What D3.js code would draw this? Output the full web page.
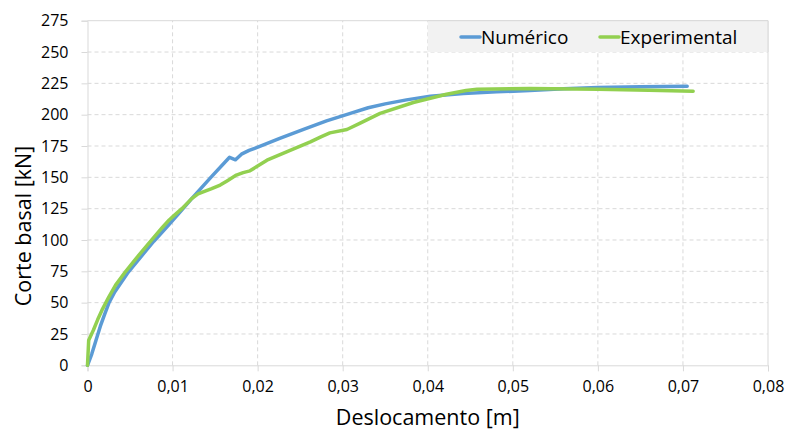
<!DOCTYPE html>
<html>
<head>
<meta charset="utf-8">
<script src="https://cdn.jsdelivr.net/npm/d3@7"></script>
<style>
  html, body { margin: 0; padding: 0; background: #fff; }
  svg { display: block; font-family: "Open Sans", "Noto Sans", sans-serif; }
</style>
</head>
<body>
<svg id="chart" width="788" height="432"></svg>
<script>
// Displacement [m] and base shear [kN] for each curve
const numericoX = [0, 0.0005, 0.0010, 0.0015, 0.0020, 0.0025, 0.0032, 0.0039, 0.0047, 0.0062, 0.0078, 0.0094, 0.0109, 0.01225, 0.0145, 0.0167, 0.0174, 0.0181, 0.0190, 0.0201, 0.0226, 0.0254, 0.0281, 0.0309, 0.0330, 0.0350, 0.0375, 0.0403, 0.0442, 0.0481, 0.0520, 0.0560, 0.0600, 0.0650, 0.0705];
const numericoY = [0, 9, 20, 31, 40.5, 49.5, 58.5, 65.5, 73.5, 86, 99, 111, 122.5, 133, 150, 166, 164, 168.5, 171.5, 174.3, 181, 188.2, 195, 201, 205.5, 208.6, 211.8, 214.8, 216.9, 218.2, 219.2, 220.6, 221.6, 222.3, 222.7];

const experimentalX = [0, 0.00014, 0.0007, 0.0012, 0.0017, 0.0025, 0.0033, 0.0045, 0.0058, 0.00755, 0.0088, 0.0096, 0.0101, 0.0111, 0.01225, 0.0130, 0.0136, 0.0146, 0.0156, 0.0165, 0.0175, 0.0183, 0.0191, 0.0200, 0.0211, 0.0234, 0.0262, 0.0275, 0.0285, 0.0305, 0.0320, 0.0344, 0.0383, 0.0422, 0.0445, 0.0458, 0.0520, 0.0600, 0.0660, 0.0712];
const experimentalY = [0, 20, 28.2, 36.5, 44, 54.5, 64, 75, 86, 100, 110, 116, 119, 125, 133, 136.8, 138.4, 141, 143.8, 147.5, 151.8, 153.8, 155.2, 159, 163.7, 170.3, 178.3, 182.5, 185.5, 188.2, 193, 201, 209.7, 216.3, 219.3, 220.3, 220.9, 220.3, 219.5, 218.7];

const xTicks = [0, 0.01, 0.02, 0.03, 0.04, 0.05, 0.06, 0.07, 0.08];
const yTicks = [0, 25, 50, 75, 100, 125, 150, 175, 200, 225, 250, 275];
const seriesNames = ["Numérico", "Experimental"];
const seriesColors = ["#5b9bd5", "#92d050"];

const svg = d3.select("#chart");
const x = d3.scaleLinear().domain([0, 0.08]).range([87.5, 768]);
const y = d3.scaleLinear().domain([0, 275]).range([365.3, 20.7]);
const grid = "#d9d9d9";
const fmt = v => v === 0 ? "0" : d3.format(".2f")(v).replace(".", ",");

// gridlines
const g = svg.append("g");
g.selectAll(".hg").data(yTicks.filter(t => t > 0)).join("line")
  .attr("x1", x(0)).attr("x2", x(0.08))
  .attr("y1", d => y(d)).attr("y2", d => y(d))
  .attr("stroke", grid).attr("stroke-width", 1)
  .attr("stroke-dasharray", d => d === 275 ? null : "4,3");
g.selectAll(".vg").data(xTicks.filter(t => t > 0)).join("line")
  .attr("y1", y(0)).attr("y2", y(275))
  .attr("x1", d => x(d)).attr("x2", d => x(d))
  .attr("stroke", grid).attr("stroke-width", 1)
  .attr("stroke-dasharray", d => d === 0.08 ? null : "4,3");

// legend band
const legendBand = svg.append("g");
legendBand.append("rect")
  .attr("x", x(0.04)).attr("y", y(275))
  .attr("width", x(0.08) - x(0.04)).attr("height", y(250) - y(275))
  .attr("fill", "#f2f2f2");
legendBand.append("line")
  .attr("x1", x(0.04)).attr("x2", x(0.08)).attr("y1", y(275)).attr("y2", y(275))
  .attr("stroke", grid);
legendBand.append("line")
  .attr("x1", x(0.08)).attr("x2", x(0.08)).attr("y1", y(275)).attr("y2", y(250))
  .attr("stroke", grid);

// axes
const xAxis = svg.append("g").attr("transform", `translate(0,${y(0)})`)
  .call(d3.axisBottom(x).tickValues(xTicks).tickFormat(fmt).tickSize(6).tickPadding(9));
const yAxis = svg.append("g").attr("transform", `translate(${x(0)},0)`)
  .call(d3.axisLeft(y).tickValues(yTicks).tickSize(6).tickPadding(13));
[xAxis, yAxis].forEach(a => {
  a.select(".domain").attr("stroke", grid);
  a.selectAll(".tick line").attr("stroke", grid);
  a.selectAll(".tick text").attr("fill", "#000").style("font-size", "16px")
    .style("font-family", "'Open Sans', sans-serif");
});

// curves
const line = d3.line().x(d => x(d[0])).y(d => y(d[1])).curve(d3.curveLinear);
const series = [
  d3.zip(numericoX, numericoY),
  d3.zip(experimentalX, experimentalY)
];
svg.append("g").selectAll("path").data(series).join("path")
  .attr("d", line)
  .attr("fill", "none")
  .attr("stroke", (d, i) => seriesColors[i])
  .attr("stroke-width", 3.5)
  .attr("stroke-linejoin", "round")
  .attr("stroke-linecap", "round");

// legend entries
const legendPos = [461, 600];
const leg = svg.append("g").selectAll("g").data(seriesNames).join("g")
  .attr("transform", (d, i) => `translate(${legendPos[i]},37)`);
leg.append("line").attr("x1", 0).attr("x2", 19)
  .attr("stroke", (d, i) => seriesColors[i]).attr("stroke-width", 3.5)
  .attr("stroke-linecap", "round");
leg.append("text").attr("x", 20).attr("y", 0).attr("dy", "0.35em")
  .style("font-size", "19px").attr("fill", "#000").text(d => d);

// axis titles
svg.append("text").attr("x", (x(0) + x(0.08)) / 2).attr("y", 425)
  .attr("text-anchor", "middle").style("font-size", "21.5px").attr("fill", "#000")
  .text("Deslocamento [m]");
svg.append("text").attr("transform", `translate(31,${(y(0) + y(275)) / 2 + 33}) rotate(-90)`)
  .attr("text-anchor", "middle").style("font-size", "21.5px").attr("fill", "#000")
  .text("Corte basal [kN]");
</script>
</body>
</html>
